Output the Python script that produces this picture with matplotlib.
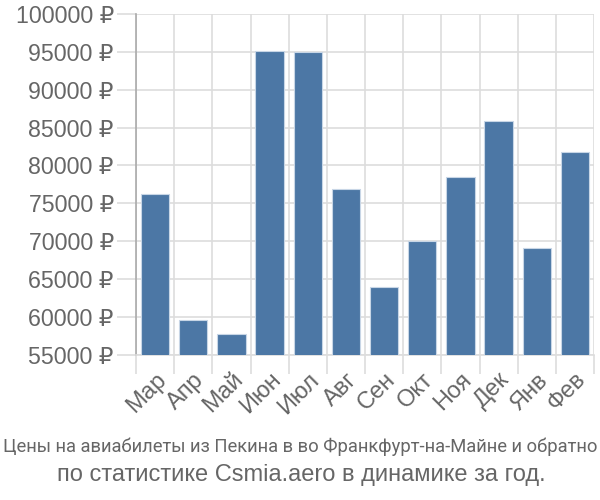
import matplotlib.pyplot as plt
import numpy as np

months = ['Мар', 'Апр', 'Май', 'Июн', 'Июл', 'Авг', 'Сен', 'Окт', 'Ноя', 'Дек', 'Янв', 'Фев']
prices = [76270, 59620, 57770, 95160, 95030, 76930, 63900, 69980, 78470, 85870, 69130, 81730]
yticks = list(range(55000, 100001, 5000))

plt.rcParams['font.family'] = ['Liberation Sans', 'DejaVu Sans']

fig = plt.figure(figsize=(6, 5), dpi=100)
ax = fig.add_axes([0.2267, 0.2906, 0.7633, 0.6814])

x = np.arange(len(months))
ax.bar(x, prices, width=0.74, color='#4c77a5', edgecolor='#c8d6e6', linewidth=0.8, zorder=3)

ax.set_ylim(55000, 100000)
ax.set_xlim(-0.5, len(months) - 0.5)
ax.set_yticks(yticks)
ax.set_yticklabels([f'{v} ₽' for v in yticks], fontsize=16.7, color='#666666')
ax.set_xticks(x)
ax.set_xticklabels(months, rotation=45, ha='right', rotation_mode='anchor',
                   fontsize=17, color='#666666')
ax.set_xticks(np.arange(-0.5, len(months)), minor=True)

ax.tick_params(axis='y', length=14, color='#dddddd', width=1.2, pad=2)
ax.tick_params(axis='x', which='major', length=0, pad=10)
ax.tick_params(axis='x', which='minor', length=14, color='#dddddd', width=1.2)

ax.grid(axis='y', color='#dddddd', linewidth=1.2, zorder=0)
ax.grid(axis='x', which='minor', color='#dddddd', linewidth=1.2, zorder=0)

for s in ['top', 'right']:
    ax.spines[s].set_visible(False)
ax.spines['left'].set_color('#aaaaaa')
ax.spines['left'].set_linewidth(1.2)
ax.spines['bottom'].set_color('#dddddd')
ax.spines['bottom'].set_linewidth(1.2)

fig.text(0.5, 0.106, 'Цены на авиабилеты из Пекина в во Франкфурт-на-Майне и обратно',
         ha='center', va='center', fontsize=13.2, color='#666666',
         family=['Roboto', 'DejaVu Sans'])
fig.text(0.503, 0.05, 'по статистике Csmia.aero в динамике за год.',
         ha='center', va='center', fontsize=17, color='#666666')

plt.savefig('out.png', dpi=100)
